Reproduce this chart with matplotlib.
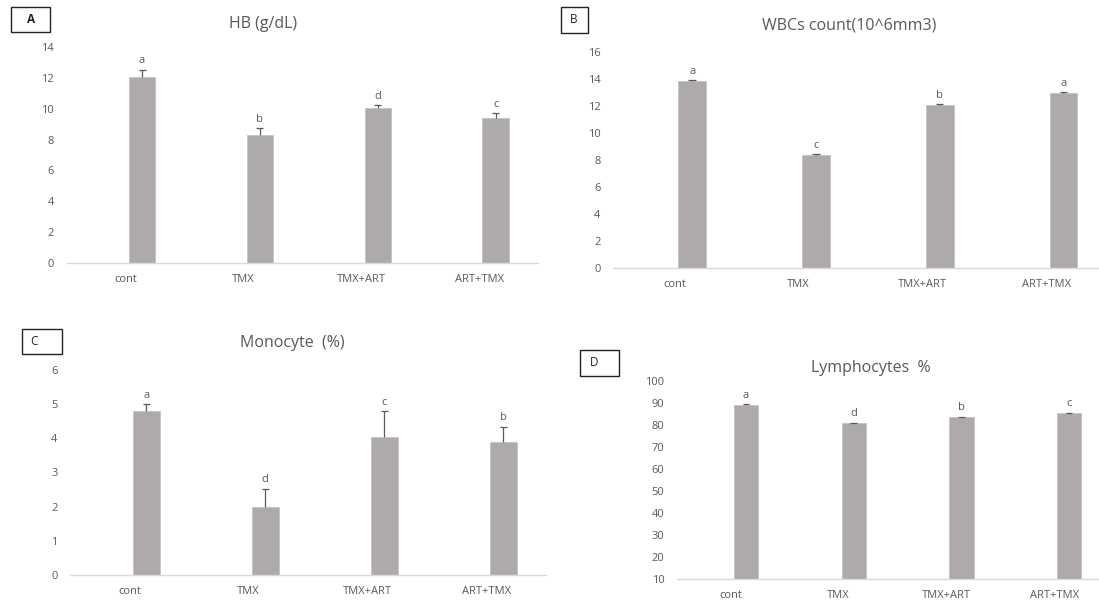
import matplotlib
matplotlib.use("Agg")
import matplotlib.pyplot as plt
from matplotlib.patches import Rectangle
import numpy as np

plt.rcParams["font.family"] = ["Open Sans", "DejaVu Sans"]

groups = ["cont", "TMX", "TMX+ART", "ART+TMX"]

hb_mean = [12.1, 8.28, 10.06, 9.41]
hb_err = [0.44, 0.45, 0.17, 0.32]
hb_sig = ["a", "b", "d", "c"]

wbc_mean = [13.85, 8.37, 12.05, 12.94]
wbc_err = [0.05, 0.03, 0.04, 0.04]
wbc_sig = ["a", "c", "b", "a"]

mono_mean = [4.80, 1.99, 4.03, 3.88]
mono_err = [0.20, 0.53, 0.77, 0.46]
mono_sig = ["a", "d", "c", "b"]

lymph_mean = [89.1, 80.8, 83.5, 85.3]
lymph_err = [0.25, 0.2, 0.2, 0.2]
lymph_sig = ["a", "d", "b", "c"]

W, H = 1099, 602
BAR = "#aeaaaa"
TXT = "#595959"
AXL = "#d9d9d9"

fig = plt.figure(figsize=(W / 100, H / 100), dpi=100)


def px_axes(x0, x1, ytop, ybot):
    return fig.add_axes([x0 / W, 1 - ybot / H, (x1 - x0) / W, (ybot - ytop) / H])


def panel(ax, means, errs, sig, ylo, yhi, step):
    x = np.arange(len(groups)) + 0.14
    means = np.asarray(means); errs = np.asarray(errs)
    ax.bar(x, means - ylo, width=0.225, bottom=ylo, color=BAR, edgecolor="#c4c1c1", lw=0.6, zorder=2)
    ax.vlines(x, means, means + errs, color=TXT, lw=0.9, zorder=3)
    ax.hlines(means + errs, x - 0.03, x + 0.03, color=TXT, lw=0.9, zorder=3)
    for xi, top, s in zip(x, means + errs, sig):
        ax.annotate(s, (xi, top), xytext=(0, 2.5), textcoords="offset points",
                    ha="center", va="bottom", fontsize=8, color=TXT)
    ax.set_xlim(-0.5, len(groups) - 0.5)
    ax.set_ylim(ylo, yhi)
    ax.set_yticks(np.arange(ylo, yhi + step / 2, step))
    ax.set_xticks(np.arange(len(groups)))
    ax.set_xticklabels(groups)
    for sp in ("top", "right", "left"):
        ax.spines[sp].set_visible(False)
    ax.spines["bottom"].set_color(AXL)
    ax.spines["bottom"].set_linewidth(1.0)
    ax.tick_params(axis="y", length=0, pad=9, labelsize=8, labelcolor=TXT)
    ax.tick_params(axis="x", length=0, pad=8, labelsize=8, labelcolor=TXT)
    ax.patch.set_alpha(0)


def tag(letter, x0, x1, y0, y1, tx):
    fig.patches.append(Rectangle((x0 / W, 1 - y1 / H), (x1 - x0) / W, (y1 - y0) / H,
                                 transform=fig.transFigure, fill=False, ec="#222222", lw=1.0))
    fig.text(tx / W, 1 - (y0 + y1) / 2 / H, letter, ha="center", va="center",
             fontsize=8.5, color="#222222", fontweight="bold" if letter == "A" else "normal")


# A: haemoglobin
axA = px_axes(66.7, 538, 47.3, 262.7)
panel(axA, hb_mean, hb_err, hb_sig, 0, 14, 2)
fig.text(263 / W, 1 - 24 / H, "HB (g/dL)", ha="center", va="center", fontsize=11.5, color=TXT)
tag("A", 10.5, 50, 6.7, 31.7, 31)

# B: white blood cells
axB = px_axes(613, 1108, 51.7, 267.7)
panel(axB, wbc_mean, wbc_err, wbc_sig, 0, 16, 2)
fig.text(849 / W, 1 - 26 / H, "WBCs count(10^6mm3)", ha="center", va="center", fontsize=11.5, color=TXT)
tag("B", 560.5, 587.5, 6.7, 32.7, 574)

# C: monocytes
axC = px_axes(70, 546, 370, 575)
panel(axC, mono_mean, mono_err, mono_sig, 0, 6, 1)
fig.text(292 / W, 1 - 343 / H, "Monocyte  (%)", ha="center", va="center", fontsize=11.5, color=TXT)
tag("C", 21.7, 62, 329, 354, 34)

# D: lymphocytes
axD = px_axes(677, 1108, 380.7, 579)
panel(axD, lymph_mean, lymph_err, lymph_sig, 10, 100, 10)
fig.text(871 / W, 1 - 368 / H, "Lymphocytes  %", ha="center", va="center", fontsize=11.5, color=TXT)
tag("D", 580, 619, 350, 376, 594)

fig.savefig("out.png", dpi=100)
